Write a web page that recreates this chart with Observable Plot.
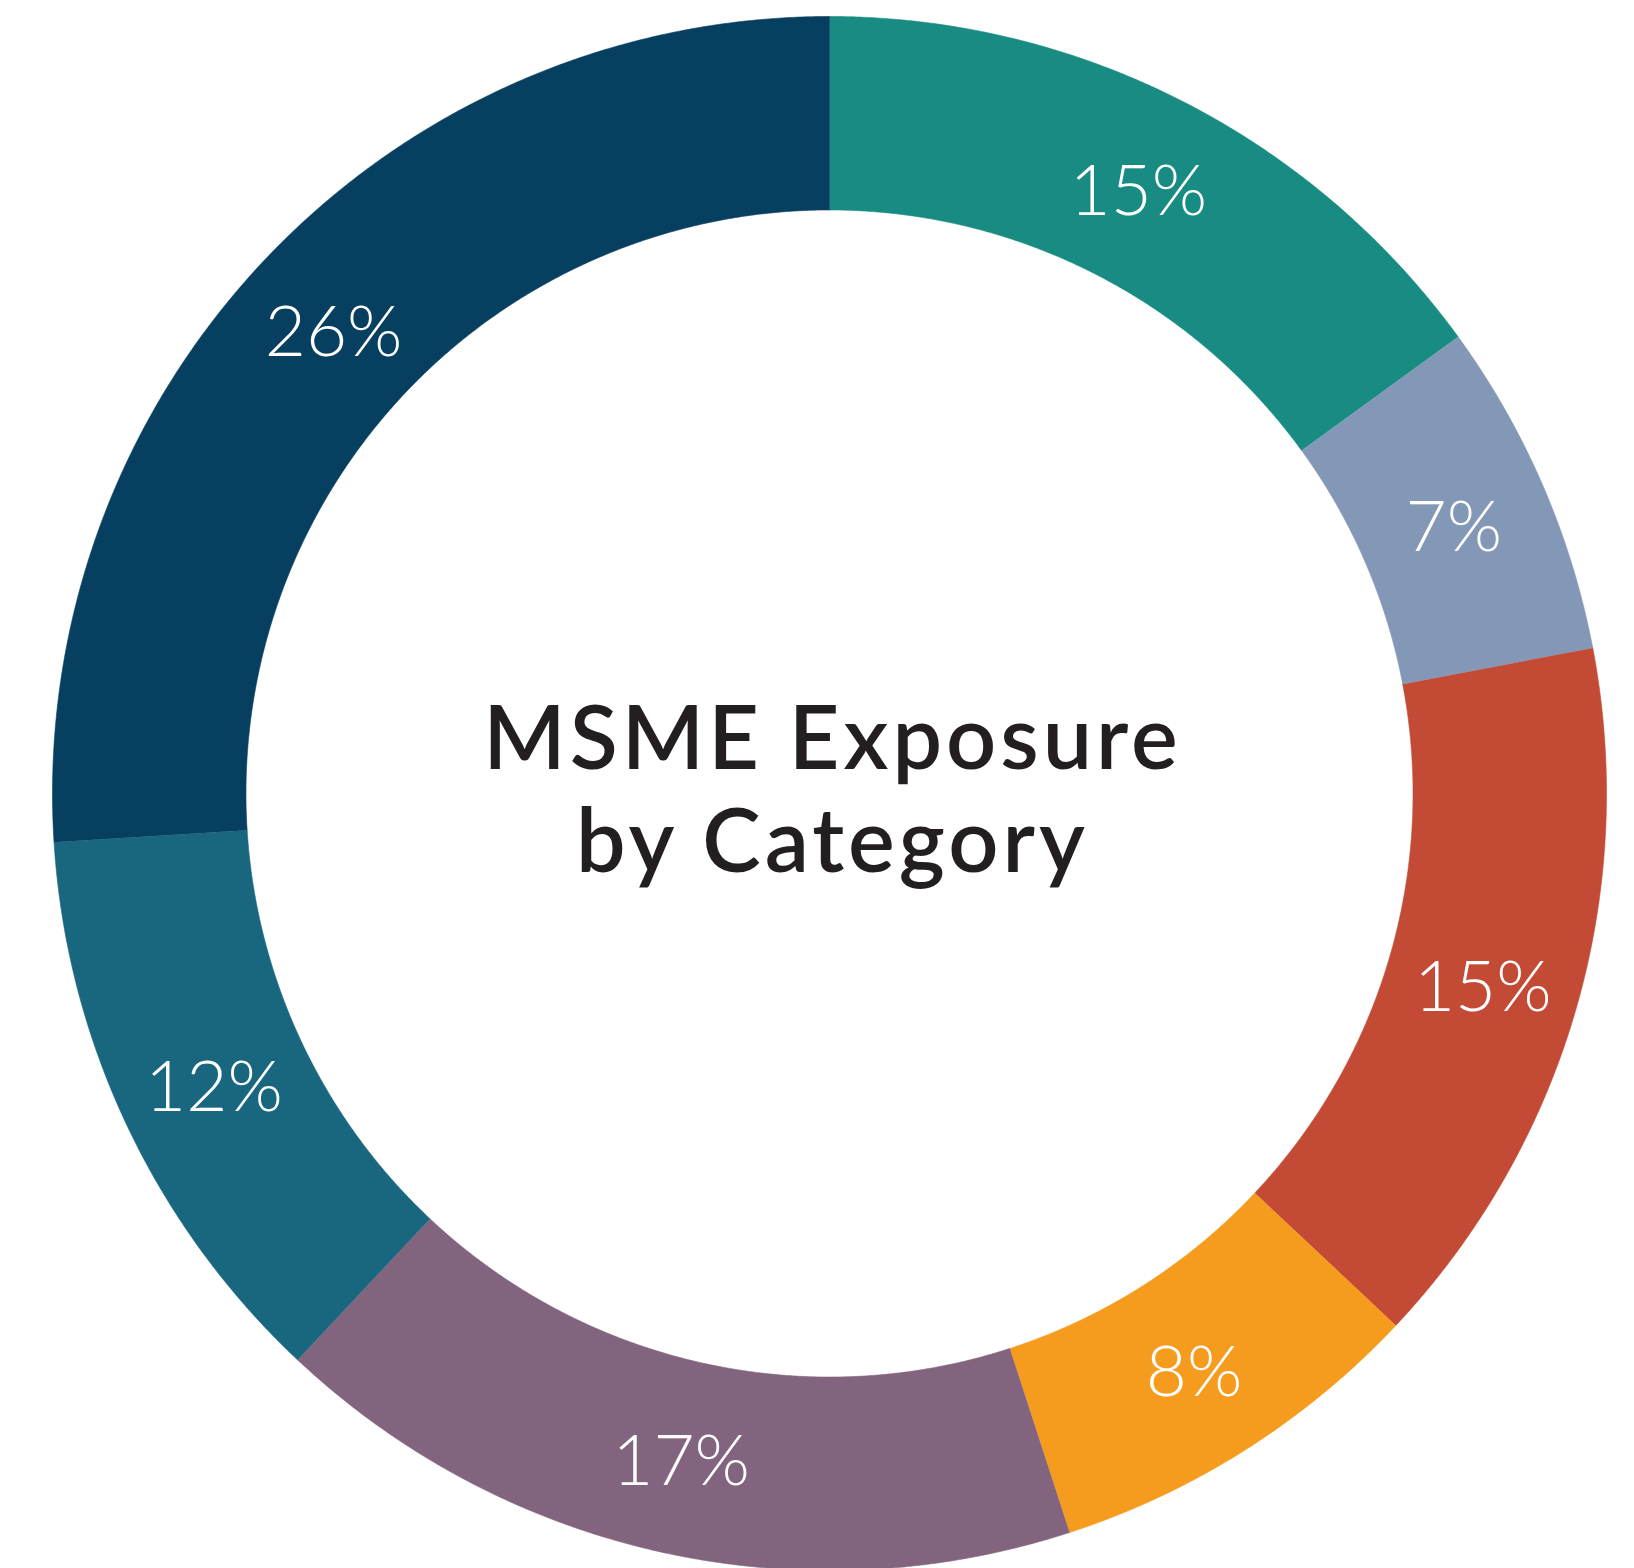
<!DOCTYPE html>
<html>
<head>
<meta charset="utf-8">
<script src="https://cdn.jsdelivr.net/npm/d3@7"></script>
<script src="https://cdn.jsdelivr.net/npm/@observablehq/plot@0.6"></script>
<style>
  html, body { margin: 0; padding: 0; background: #ffffff; }
  #chart svg { display: block; }
  #chart g[aria-label="text"]:last-of-type text { letter-spacing: 4px; }
</style>
</head>
<body>
<div id="chart"></div>
<script>
// Share of MSME exposure by category, clockwise from 12 o'clock
const categories = ["A", "B", "C", "D", "E", "F", "G"];
const shares = [15, 7, 15, 8, 17, 12, 26];
const colors = ["#188b82", "#8398b7", "#c34a35", "#f59c1e", "#83647e", "#19667f", "#063f5f"];
const titleLines = ["MSME Exposure", "by Category"];

// Ring geometry in unit coordinates (outer radius = 1)
const innerR = 0.751;
const outerR = 1;
const W = 1634, H = 1568;
const cx = 829, cy = 793, R = 777;

// Angles (degrees, clockwise from top) for each slice
const total = d3.sum(shares);
let acc = 0;
const slices = categories.map((key, i) => {
  const a0 = (acc / total) * 360;
  acc += shares[i];
  const a1 = (acc / total) * 360;
  return {key, value: shares[i], a0, a1};
});

// Polygon outline of each ring segment: outer arc then inner arc back
const rad = (deg) => (deg * Math.PI) / 180;
const ringPoints = slices.flatMap((s) => {
  const n = Math.max(2, Math.ceil((s.a1 - s.a0) / 0.25));
  const pts = [];
  for (let k = 0; k <= n; ++k) {
    const a = rad(s.a0 + ((s.a1 - s.a0) * k) / n);
    pts.push({key: s.key, x: outerR * Math.sin(a), y: outerR * Math.cos(a)});
  }
  for (let k = n; k >= 0; --k) {
    const a = rad(s.a0 + ((s.a1 - s.a0) * k) / n);
    pts.push({key: s.key, x: innerR * Math.sin(a), y: innerR * Math.cos(a)});
  }
  return pts;
});

// Percentage labels at the middle of each segment
const midR = (innerR + outerR) / 2;
const labels = slices.map((s) => {
  const a = rad((s.a0 + s.a1) / 2);
  return {x: midR * Math.sin(a), y: midR * Math.cos(a), text: `${s.value}%`};
});

const chart = Plot.plot({
  width: W,
  height: H,
  margin: 0,
  x: {domain: [-cx / R, (W - cx) / R], axis: null},
  y: {domain: [-(H - cy) / R, cy / R], axis: null},
  color: {domain: categories, range: colors},
  style: {background: "#ffffff", fontFamily: "Lato, 'Open Sans', sans-serif"},
  marks: [
    Plot.line(ringPoints, {x: "x", y: "y", z: "key", fill: "key", stroke: "key", strokeWidth: 0.6, curve: "linear"}),
    Plot.text(labels, {
      x: "x", y: "y", text: "text", dy: 5,
      fill: "#ffffff", fontSize: 71, fontWeight: 300
    }),
    Plot.text([titleLines.join("\n")], {
      x: 0, y: 0, text: (d) => d, dy: -6, dx: 3,
      fill: "#231f20", fontSize: 88, fontWeight: 600, lineHeight: 1.17
    })
  ]
});

document.getElementById("chart").appendChild(chart);
</script>
</body>
</html>
